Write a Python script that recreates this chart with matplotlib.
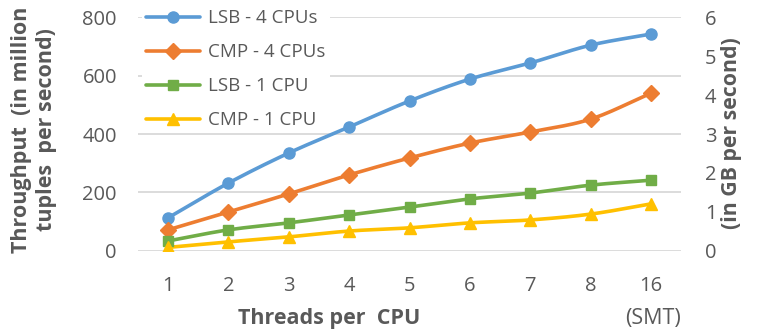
import numpy as np
import matplotlib
matplotlib.use('Agg')
import matplotlib.pyplot as plt
from matplotlib.lines import Line2D

plt.rcParams['font.family'] = ['Open Sans', 'DejaVu Sans']

# Throughput per thread count (million tuples per second)
threads = ['1', '2', '3', '4', '5', '6', '7', '8', '16']
lsb_4cpu = [113, 232, 335, 424, 513, 588, 643, 704, 742]
cmp_4cpu = [72, 133, 195, 260, 318, 369, 407, 451, 540]
lsb_1cpu = [34, 72, 96, 123, 150, 178, 198, 225, 242]
cmp_1cpu = [12, 31, 48, 68, 79, 96, 106, 126, 161]

GRAY = '#595959'
series = [
    ('LSB - 4 CPUs', lsb_4cpu, '#5B9BD5', 'o', 8),
    ('CMP - 4 CPUs', cmp_4cpu, '#ED7D31', 'D', 8.5),
    ('LSB - 1 CPU', lsb_1cpu, '#70AD47', 's', 7.5),
    ('CMP - 1 CPU', cmp_1cpu, '#FFC000', '^', 8.5),
]


def smooth(x, y, n=20):
    """Catmull-Rom curve through the points, like a spreadsheet 'smoothed line'."""
    x = np.asarray(x, float)
    y = np.asarray(y, float)
    px = np.concatenate([[2 * x[0] - x[1]], x, [2 * x[-1] - x[-2]]])
    py = np.concatenate([[2 * y[0] - y[1]], y, [2 * y[-1] - y[-2]]])
    xs, ys = [], []
    t = np.linspace(0, 1, n, endpoint=False)
    for i in range(1, len(px) - 2):
        for p, out in ((px, xs), (py, ys)):
            p0, p1, p2, p3 = p[i - 1], p[i], p[i + 1], p[i + 2]
            out.extend(0.5 * (2 * p1 + (-p0 + p2) * t
                              + (2 * p0 - 5 * p1 + 4 * p2 - p3) * t ** 2
                              + (-p0 + 3 * p1 - 3 * p2 + p3) * t ** 3))
    xs.append(x[-1])
    ys.append(y[-1])
    return xs, ys


fig = plt.figure(figsize=(7.57, 3.35), dpi=100)
ax = fig.add_axes([0.182, 0.251, 0.718, 0.698])

xpos = np.arange(len(threads))
handles = []
for label, vals, color, marker, ms in series:
    sx, sy = smooth(xpos, vals)
    ax.plot(sx, sy, color=color, lw=2.6, solid_capstyle='round', zorder=3)
    ax.plot(xpos, vals, ls='none', marker=marker, ms=ms, color=color, zorder=4)
    handles.append(Line2D([], [], color=color, lw=2.6, marker=marker, ms=ms,
                          solid_capstyle='round', label=label))

ax.set_xlim(-0.5, len(threads) - 0.5)
ax.set_ylim(0, 800)
ax.set_yticks([0, 200, 400, 600, 800])
ax.set_xticks(xpos)
ax.set_xticklabels(threads)
ax.grid(axis='y', color='#D9D9D9', lw=1.3)
ax.set_axisbelow(True)
for s in ax.spines.values():
    s.set_visible(False)
ax.tick_params(length=0, labelsize=14.5, colors=GRAY, pad=15)
ax.tick_params(axis='x', pad=18)

ax2 = ax.twinx()
ax2.set_ylim(0, 6)
ax2.set_yticks(range(7))
for s in ax2.spines.values():
    s.set_visible(False)
ax2.tick_params(length=0, labelsize=14.5, colors=GRAY, pad=17)

fig.text(0.045, 0.613, 'Throughput  (in million\ntuples  per second)', rotation=90,
         ha='center', va='center', fontsize=15.5, fontweight='bold', color=GRAY,
         linespacing=1.3)
fig.text(0.966, 0.603, '(in GB per second)', rotation=90, ha='center', va='center',
         fontsize=15.3, fontweight='bold', color=GRAY)
fig.text(0.435, 0.048, 'Threads per  CPU', ha='center', va='center', fontsize=15.5,
         fontweight='bold', color=GRAY)
fig.text(0.862, 0.048, '(SMT)', ha='center', va='center', fontsize=15.5, color=GRAY)

leg = ax.legend(handles=handles, loc='upper left', bbox_to_anchor=(0.175, 1.012),
                bbox_transform=fig.transFigure, frameon=True, fancybox=False,
                edgecolor='none', facecolor='white', framealpha=1,
                fontsize=13.5, handlelength=2.9, handletextpad=0.45,
                labelspacing=0.86, borderpad=0.2, numpoints=1)
for t in leg.get_texts():
    t.set_color(GRAY)
leg.set_zorder(5)

fig.savefig('out.png', dpi=100)
